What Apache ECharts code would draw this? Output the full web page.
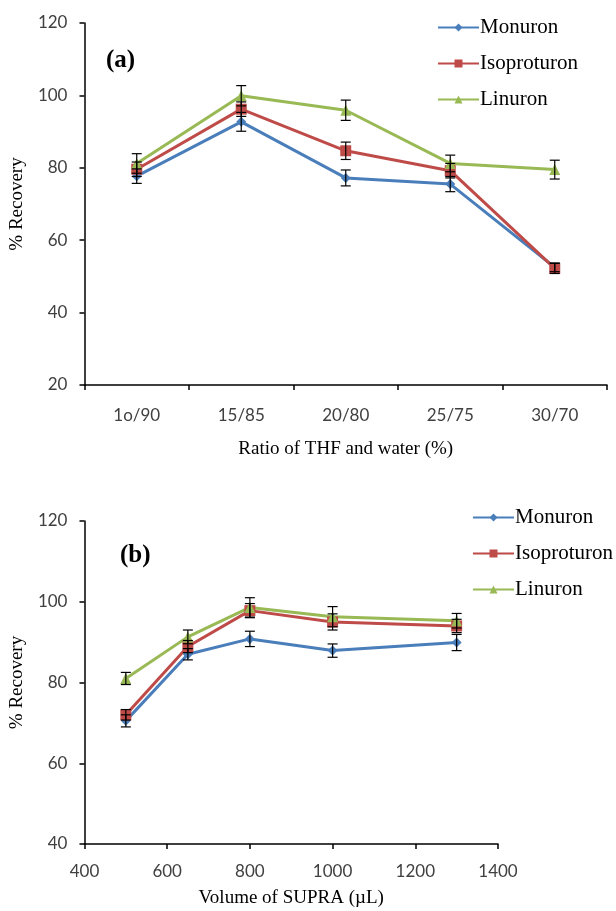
<!DOCTYPE html>
<html>
<head>
<meta charset="utf-8">
<script src="https://cdn.jsdelivr.net/npm/echarts@6/dist/echarts.min.js"></script>
<style>
html,body{margin:0;padding:0;background:#fff;}
#chart{width:616px;height:911px;}
</style>
</head>
<body>
<div id="chart"></div>
<script>
// ---- Panel (a) data ----
const categoriesA = ['1o/90', '15/85', '20/80', '25/75', '30/70'];
const monuronA = [77.7, 92.7, 77.2, 75.5, 52.5];
const isoproturonA = [79.6, 96.2, 84.7, 79.2, 52.2];
const linuronA = [81.2, 99.9, 95.9, 81.2, 79.5];
const monuronAErr = [2.0, 2.6, 2.2, 2.1, 1.2];
const isoproturonAErr = [2.0, 2.0, 2.4, 2.0, 1.4];
const linuronAErr = [2.7, 2.8, 2.8, 2.3, 2.6];

// ---- Panel (b) data ----
const volumesB = [500, 650, 800, 1000, 1300];
const monuronB = [70.5, 87.0, 90.8, 87.9, 89.9];
const isoproturonB = [72.0, 88.9, 97.8, 95.0, 94.0];
const linuronB = [81.0, 91.3, 98.6, 96.3, 95.3];
const monuronBErr = [1.5, 1.4, 1.9, 1.65, 2.0];
const isoproturonBErr = [1.3, 1.5, 1.75, 2.0, 1.65];
const linuronBErr = [1.5, 1.7, 2.4, 2.5, 1.8];

const seriesNames = ['Monuron', 'Isoproturon', 'Linuron'];
const colors = ['#4A7EBB', '#BE4B48', '#98B954'];
const symbols = ['diamond', 'rect', 'triangle'];
const symbolSizes = [10, 11, 11];

const serif = '"Liberation Serif", "Times New Roman", serif';
const sans = 'Lato, "Liberation Sans", sans-serif';

const chart = echarts.init(document.getElementById('chart'));

function errorRender(params, api) {
  const x = api.value(0), y = api.value(1), e = api.value(2);
  const hi = api.coord([x, y + e]);
  const lo = api.coord([x, y - e]);
  const hw = 5;
  const st = { stroke: '#000', lineWidth: 1.2 };
  return {
    type: 'group',
    children: [
      { type: 'line', shape: { x1: hi[0], y1: hi[1], x2: lo[0], y2: lo[1] }, style: st },
      { type: 'line', shape: { x1: hi[0] - hw, y1: hi[1], x2: hi[0] + hw, y2: hi[1] }, style: st },
      { type: 'line', shape: { x1: lo[0] - hw, y1: lo[1], x2: lo[0] + hw, y2: lo[1] }, style: st }
    ]
  };
}

const valsA = [monuronA, isoproturonA, linuronA];
const errsA = [monuronAErr, isoproturonAErr, linuronAErr];
const valsB = [monuronB, isoproturonB, linuronB];
const errsB = [monuronBErr, isoproturonBErr, linuronBErr];

const series = [];
seriesNames.forEach((name, k) => {
  series.push({
    name: name, type: 'line', xAxisIndex: 0, yAxisIndex: 0,
    data: valsA[k],
    symbol: symbols[k], symbolSize: symbolSizes[k],
    lineStyle: { color: colors[k], width: 3 },
    itemStyle: { color: colors[k] },
    z: 2
  });
  series.push({
    type: 'custom', xAxisIndex: 0, yAxisIndex: 0,
    renderItem: errorRender,
    data: valsA[k].map((v, i) => [i, v, errsA[k][i]]),
    encode: { x: 0, y: 1 },
    z: 3, silent: true
  });
  series.push({
    name: name, type: 'line', xAxisIndex: 1, yAxisIndex: 1,
    data: volumesB.map((x, i) => [x, valsB[k][i]]),
    symbol: symbols[k], symbolSize: symbolSizes[k],
    lineStyle: { color: colors[k], width: 3 },
    itemStyle: { color: colors[k] },
    z: 2
  });
  series.push({
    type: 'custom', xAxisIndex: 1, yAxisIndex: 1,
    renderItem: errorRender,
    data: volumesB.map((x, i) => [x, valsB[k][i], errsB[k][i]]),
    encode: { x: 0, y: 1 },
    z: 3, silent: true
  });
});

const axisLine = { show: true, lineStyle: { color: '#000', width: 1.5 } };
const axisTick = { show: true, length: 5, lineStyle: { color: '#000', width: 1.5 } };
const tickLabel = { color: '#404040', fontFamily: sans, fontSize: 17 };
const nameStyle = { color: '#000', fontFamily: serif, fontSize: 19 };

const legendCommon = {
  orient: 'vertical',
  itemWidth: 41, itemHeight: 10, itemGap: 15,
  textStyle: { fontFamily: serif, fontSize: 21, color: '#000', padding: [0, 0, 0, -4] },
  data: seriesNames
};

chart.setOption({
  animation: false,
  backgroundColor: '#fff',
  title: [
    { text: '(a)', left: 101, top: 43, textStyle: { fontFamily: serif, fontSize: 25, fontWeight: 'bold', color: '#000' } },
    { text: '(b)', left: 115, top: 538, textStyle: { fontFamily: serif, fontSize: 25, fontWeight: 'bold', color: '#000' } }
  ],
  legend: [
    Object.assign({ left: 432, top: 12 }, legendCommon),
    Object.assign({ left: 467, top: 502 }, legendCommon)
  ],
  grid: [
    { left: 75, top: 23, width: 532, height: 362 },
    { left: 75, top: 521, width: 423, height: 323 }
  ],
  xAxis: [
    {
      type: 'category', gridIndex: 0, data: categoriesA, boundaryGap: true,
      axisLine: axisLine, axisTick: axisTick,
      axisLabel: Object.assign({ margin: 22 }, tickLabel),
      splitLine: { show: false },
      name: 'Ratio of THF and water (%)', nameLocation: 'middle', nameGap: 55,
      nameTextStyle: nameStyle
    },
    {
      type: 'value', gridIndex: 1, min: 400, max: 1400, interval: 200,
      axisLine: axisLine, axisTick: axisTick,
      axisLabel: Object.assign({ margin: 19, formatter: function (v) { return String(v); } }, tickLabel),
      splitLine: { show: false },
      name: 'Volume of SUPRA (\u00B5L)', nameLocation: 'middle', nameGap: 45,
      nameTextStyle: nameStyle
    }
  ],
  yAxis: [
    {
      type: 'value', gridIndex: 0, min: 20, max: 120, interval: 20,
      axisLine: axisLine, axisTick: axisTick,
      axisLabel: Object.assign({ margin: 17 }, tickLabel),
      splitLine: { show: false },
      name: '% Recovery', nameLocation: 'middle', nameGap: 46,
      nameTextStyle: nameStyle
    },
    {
      type: 'value', gridIndex: 1, min: 40, max: 120, interval: 20,
      axisLine: axisLine, axisTick: axisTick,
      axisLabel: Object.assign({ margin: 17 }, tickLabel),
      splitLine: { show: false },
      name: '% Recovery', nameLocation: 'middle', nameGap: 46,
      nameTextStyle: nameStyle
    }
  ],
  series: series
});
</script>
</body>
</html>
